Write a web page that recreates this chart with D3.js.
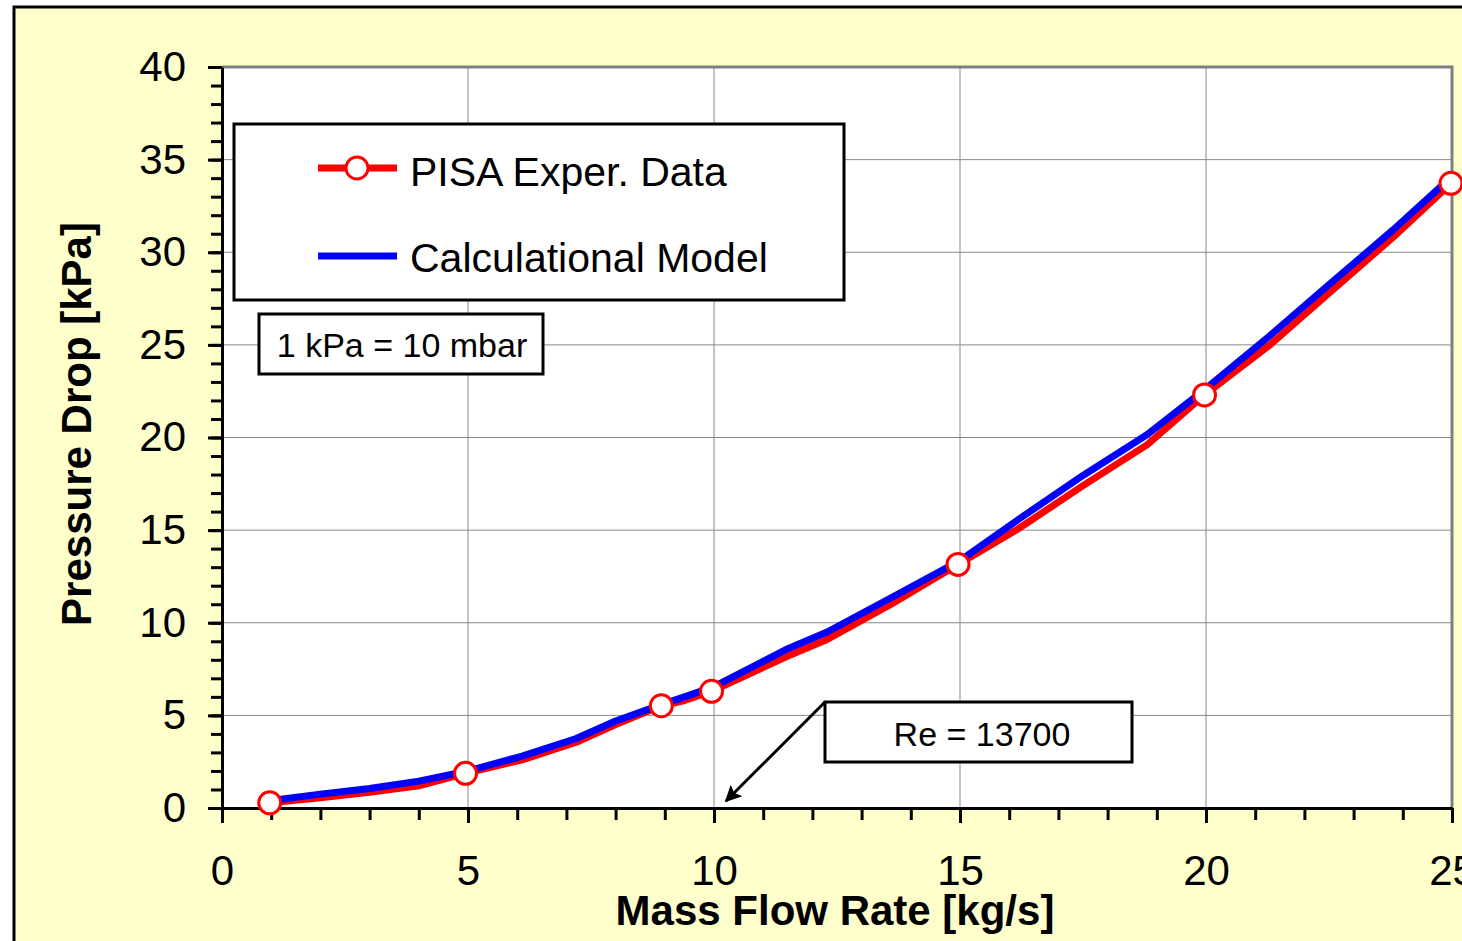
<!DOCTYPE html>
<html>
<head>
<meta charset="utf-8">
<title>Pressure Drop vs Mass Flow Rate</title>
<script src="https://d3js.org/d3.v7.min.js"></script>
<style>
  body { margin: 0; background: #fff; }
  svg text { font-family: "Liberation Sans", Arial, sans-serif; fill: #000; }
</style>
</head>
<body>
<svg width="1462" height="941"></svg>
<script>
// calculational model curve
var modelFlow = [1, 2, 3, 4, 5, 6.1, 7.2, 8, 9, 9.4, 10, 11.5, 12.3, 13.6, 15, 16.2, 17.5, 18.8, 20, 21.3, 22.5, 23.8, 25];
var modelDrop = [0.4, 0.75, 1.05, 1.45, 2.0, 2.8, 3.75, 4.7, 5.65, 6.0, 6.55, 8.6, 9.5, 11.35, 13.35, 15.6, 17.95, 20.15, 22.65, 25.5, 28.25, 31.2, 34.1];

// PISA experimental line and its measured points
var pisaFlow = [0.97, 2, 3, 4, 4.95, 6.1, 7.2, 8, 8.93, 9.4, 9.95, 11.5, 12.3, 13.6, 14.96, 16.2, 17.5, 18.8, 19.97, 21.3, 22.5, 23.8, 24.98];
var pisaDrop = [0.28, 0.55, 0.85, 1.2, 1.87, 2.6, 3.55, 4.5, 5.52, 5.8, 6.3, 8.2, 9.1, 11.0, 13.15, 15.1, 17.4, 19.6, 22.3, 25.0, 27.8, 30.8, 33.72];
var markFlow = [0.97, 4.95, 8.93, 9.95, 14.96, 19.97, 24.98];
var markDrop = [0.28, 1.87, 5.52, 6.3, 13.15, 22.3, 33.72];

var xTicks = [0, 5, 10, 15, 20, 25];
var yTicks = [0, 5, 10, 15, 20, 25, 30, 35, 40];

var svg = d3.select("svg");

// yellow chart frame
svg.append("rect")
    .attr("x", 14).attr("y", 7)
    .attr("width", 1470).attr("height", 960)
    .attr("fill", "#ffffcc")
    .attr("stroke", "#000").attr("stroke-width", 3);

var plotL = 222, plotR = 1452, plotT = 67, plotB = 808;

var x = d3.scaleLinear().domain([0, 25]).range([plotL, plotR]);
var y = d3.scaleLinear().domain([0, 40]).range([plotB, plotT]);

svg.append("rect")
    .attr("x", plotL).attr("y", plotT)
    .attr("width", plotR - plotL).attr("height", plotB - plotT)
    .attr("fill", "#fff");

// grid
svg.append("g").selectAll("line")
    .data(xTicks.filter(function(d) { return d > 0 && d < 25; }))
    .enter().append("line")
    .attr("x1", function(d) { return x(d); }).attr("x2", function(d) { return x(d); })
    .attr("y1", plotT).attr("y2", plotB)
    .attr("stroke", "#888").attr("stroke-width", 1);

svg.append("g").selectAll("line")
    .data(yTicks.filter(function(d) { return d > 0 && d < 40; }))
    .enter().append("line")
    .attr("x1", plotL).attr("x2", plotR)
    .attr("y1", function(d) { return y(d); }).attr("y2", function(d) { return y(d); })
    .attr("stroke", "#888").attr("stroke-width", 1);

// gray plot border top and right
svg.append("path")
    .attr("d", "M" + plotL + "," + plotT + "H" + plotR + "V" + plotB)
    .attr("fill", "none")
    .attr("stroke", "#808080").attr("stroke-width", 3);

// minor ticks
svg.append("g")
    .attr("transform", "translate(" + plotL + ",0)")
    .call(d3.axisLeft(y).tickValues(d3.range(0, 41, 1)).tickSize(11).tickFormat(""))
    .call(function(g) { g.select(".domain").remove(); g.selectAll("line").attr("stroke-width", 3); });

svg.append("g")
    .attr("transform", "translate(0," + plotB + ")")
    .call(d3.axisBottom(x).tickValues(d3.range(0, 26, 1)).tickSize(12).tickFormat(""))
    .call(function(g) { g.select(".domain").remove(); g.selectAll("line").attr("stroke-width", 3); });

// major ticks with labels
var yAxis = svg.append("g")
    .attr("transform", "translate(" + plotL + ",0)")
    .call(d3.axisLeft(y).tickValues(yTicks).tickSize(14).tickSizeOuter(0).tickPadding(22));
yAxis.selectAll("line").attr("stroke-width", 3);
yAxis.select(".domain").attr("stroke-width", 3);
yAxis.selectAll("text").attr("font-size", 42).attr("font-family", "Liberation Sans, Arial, sans-serif");

var xAxis = svg.append("g")
    .attr("transform", "translate(0," + plotB + ")")
    .call(d3.axisBottom(x).tickValues(xTicks).tickSize(15).tickSizeOuter(0).tickPadding(32));
xAxis.selectAll("line").attr("stroke-width", 3);
xAxis.select(".domain").attr("stroke-width", 3);
xAxis.selectAll("text").attr("font-size", 42).attr("font-family", "Liberation Sans, Arial, sans-serif");

// axis titles
svg.append("text")
    .attr("x", 835).attr("y", 925)
    .attr("text-anchor", "middle")
    .attr("font-size", 42).attr("font-weight", "bold")
    .text("Mass Flow Rate [kg/s]");

svg.append("text")
    .attr("transform", "translate(91,424) rotate(-90)")
    .attr("text-anchor", "middle")
    .attr("font-size", 42).attr("font-weight", "bold")
    .text("Pressure Drop [kPa]");

// lines
var pisaLine = d3.line()
    .x(function(d, i) { return x(pisaFlow[i]); })
    .y(function(d) { return y(d); });
var modelLine = d3.line()
    .x(function(d, i) { return x(modelFlow[i]); })
    .y(function(d) { return y(d); });

svg.append("path")
    .attr("d", pisaLine(pisaDrop))
    .attr("fill", "none").attr("stroke", "#ff0000")
    .attr("stroke-width", 7).attr("stroke-linejoin", "round");

svg.append("path")
    .attr("d", modelLine(modelDrop))
    .attr("fill", "none").attr("stroke", "#0000ff")
    .attr("stroke-width", 7).attr("stroke-linejoin", "round");

svg.append("g").selectAll("circle")
    .data(markDrop)
    .enter().append("circle")
    .attr("cx", function(d, i) { return x(markFlow[i]); })
    .attr("cy", function(d) { return y(d); })
    .attr("r", 11)
    .attr("fill", "#fff").attr("stroke", "#ff0000").attr("stroke-width", 3);

// legend
svg.append("rect")
    .attr("x", 234).attr("y", 124).attr("width", 610).attr("height", 176)
    .attr("fill", "#fff").attr("stroke", "#000").attr("stroke-width", 3);

svg.append("line")
    .attr("x1", 318).attr("x2", 397).attr("y1", 168).attr("y2", 168)
    .attr("stroke", "#ff0000").attr("stroke-width", 7);
svg.append("circle")
    .attr("cx", 357).attr("cy", 168).attr("r", 11)
    .attr("fill", "#fff").attr("stroke", "#ff0000").attr("stroke-width", 3);
svg.append("text")
    .attr("x", 410).attr("y", 186)
    .attr("font-size", 41)
    .text("PISA Exper. Data");

svg.append("line")
    .attr("x1", 318).attr("x2", 397).attr("y1", 256).attr("y2", 256)
    .attr("stroke", "#0000ff").attr("stroke-width", 7);
svg.append("text")
    .attr("x", 410).attr("y", 272)
    .attr("font-size", 41)
    .text("Calculational Model");

// unit note
svg.append("rect")
    .attr("x", 259).attr("y", 314).attr("width", 284).attr("height", 60)
    .attr("fill", "#fff").attr("stroke", "#000").attr("stroke-width", 3);
svg.append("text")
    .attr("x", 402).attr("y", 357)
    .attr("text-anchor", "middle")
    .attr("font-size", 34)
    .text("1 kPa = 10 mbar");

// Reynolds note with arrow
svg.append("defs").append("marker")
    .attr("id", "arrow")
    .attr("viewBox", "0 0 10 10")
    .attr("refX", 9).attr("refY", 5)
    .attr("markerWidth", 6.5).attr("markerHeight", 5.5)
    .attr("markerUnits", "strokeWidth")
    .attr("orient", "auto")
    .append("path")
    .attr("d", "M0,0L10,5L0,10L2,5z")
    .attr("fill", "#000");

svg.append("line")
    .attr("x1", 825).attr("y1", 702).attr("x2", 726).attr("y2", 801)
    .attr("stroke", "#000").attr("stroke-width", 3)
    .attr("marker-end", "url(#arrow)");

svg.append("rect")
    .attr("x", 825).attr("y", 702).attr("width", 307).attr("height", 60)
    .attr("fill", "#fff").attr("stroke", "#000").attr("stroke-width", 3);
svg.append("text")
    .attr("x", 982).attr("y", 746)
    .attr("text-anchor", "middle")
    .attr("font-size", 34)
    .text("Re = 13700");
</script>
</body>
</html>
